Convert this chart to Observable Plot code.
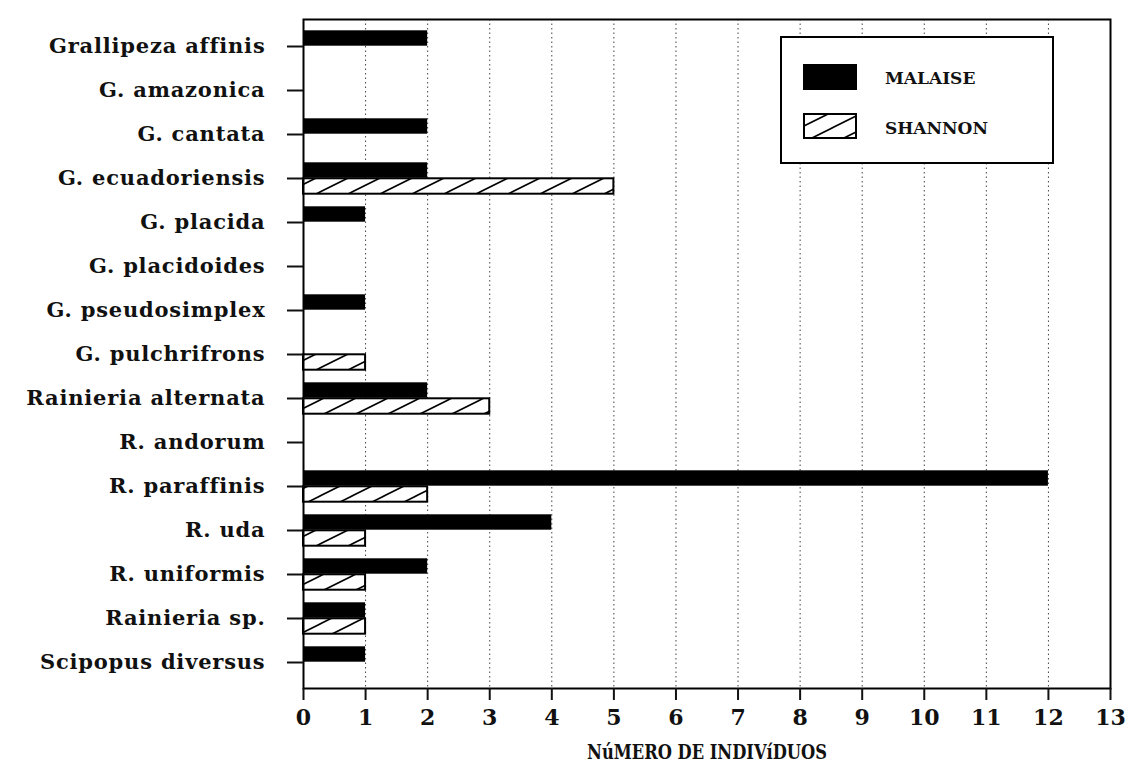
<!DOCTYPE html>
<html>
<head>
<meta charset="utf-8">
<script src="https://cdn.jsdelivr.net/npm/d3@7"></script>
<script src="https://cdn.jsdelivr.net/npm/@observablehq/plot@0.6"></script>
<style>
  html, body { margin: 0; padding: 0; background: #fff; }
  #chart { position: relative; width: 1129px; height: 771px; }
  #chart svg { font-family: "DejaVu Serif", serif; font-weight: bold; }
</style>
</head>
<body>
<div id="chart"></div>
<script>
const categories = [
  "Grallipeza affinis", "G. amazonica", "G. cantata", "G. ecuadoriensis",
  "G. placida", "G. placidoides", "G. pseudosimplex", "G. pulchrifrons",
  "Rainieria alternata", "R. andorum", "R. paraffinis", "R. uda",
  "R. uniformis", "Rainieria sp.", "Scipopus diversus"
];
const malaise = [2, 0, 2, 2, 1, 0, 1, 0, 2, 0, 12, 4, 2, 1, 1];
const shannon = [0, 0, 0, 5, 0, 0, 0, 1, 3, 0, 2, 1, 1, 1, 0];
const seriesNames = ["MALAISE", "SHANNON"];
const xTicks = [0,1,2,3,4,5,6,7,8,9,10,11,12,13];
const axisLabel = "NúMERO DE INDIVíDUOS";

const malaiseRows = categories.map((c, i) => ({species: c, value: malaise[i]})).filter(d => d.value > 0);
const shannonRows = categories.map((c, i) => ({species: c, value: shannon[i]})).filter(d => d.value > 0);

const W = 1129, H = 771;
const mt = 19, mb = 83, ml = 303, mr = 19;
const step = (H - mt - mb) / categories.length;
const half = step / 2;
const barH = 16;

const plot = Plot.plot({
  width: W, height: H,
  marginTop: mt, marginBottom: mb, marginLeft: ml, marginRight: mr,
  style: {fontFamily: "DejaVu Serif, serif", fontWeight: "bold", fontSize: "20px", color: "#111", background: "#fff"},
  x: {domain: [0, 13], ticks: xTicks, label: null},
  y: {domain: categories, padding: 0, label: null},
  marks: [
    Plot.ruleX(xTicks.slice(1, -1), {stroke: "#444", strokeWidth: 1, strokeDasharray: "1.5,3"}),
    Plot.barX(malaiseRows, {x: "value", y: "species", fill: "#000", insetTop: half - barH, insetBottom: half}),
    Plot.barX(shannonRows, {x: "value", y: "species", fill: "url(#hatch)", stroke: "#000", strokeWidth: 2, insetTop: half, insetBottom: half - barH}),
    Plot.frame({stroke: "#000", strokeWidth: 2}),
    Plot.axisY({tickSize: 16, tickPadding: 22, fontSize: 21, strokeWidth: 2, label: null}),
    Plot.axisX({ticks: xTicks, tickSize: 12, tickPadding: 9, fontSize: 22, strokeWidth: 2, label: null}),
    Plot.text([axisLabel], {frameAnchor: "bottom", dy: 70, fontSize: 21, fontWeight: "bold"})
  ]
});

const svg = d3.select(plot);
svg.selectAll("g[aria-label='y-axis tick label'] text").style("letter-spacing", "0.8px");
svg.selectAll("g[aria-label='text'] text").attr("textLength", 240).attr("lengthAdjust", "spacingAndGlyphs");

// hatch pattern definition
const defs = svg.insert("defs", ":first-child");
const pat = defs.append("pattern")
  .attr("id", "hatch").attr("patternUnits", "userSpaceOnUse")
  .attr("width", 32).attr("height", 16);
pat.append("rect").attr("width", 32).attr("height", 16).attr("fill", "#fff");
pat.append("path")
  .attr("d", "M-8,20 L40,-4 M-8,4 L8,-4 M24,20 L40,12")
  .attr("stroke", "#000").attr("stroke-width", 1.6).attr("fill", "none");

// legend box
const lg = svg.append("g").attr("font-family", "DejaVu Serif, serif").attr("font-weight", "bold")
  .attr("font-size", 17).attr("text-anchor", "start");
lg.append("rect").attr("x", 781).attr("y", 37).attr("width", 272).attr("height", 126)
  .attr("fill", "#fff").attr("stroke", "#000").attr("stroke-width", 2);
lg.append("rect").attr("x", 803).attr("y", 64).attr("width", 54).attr("height", 26).attr("fill", "#000");
lg.append("rect").attr("x", 804).attr("y", 114).attr("width", 52).attr("height", 24)
  .attr("fill", "url(#hatch)").attr("stroke", "#000").attr("stroke-width", 2);
lg.append("text").attr("x", 885).attr("y", 84).text(seriesNames[0]);
lg.append("text").attr("x", 885).attr("y", 134).text(seriesNames[1]);

document.getElementById("chart").appendChild(plot);
</script>
</body>
</html>
